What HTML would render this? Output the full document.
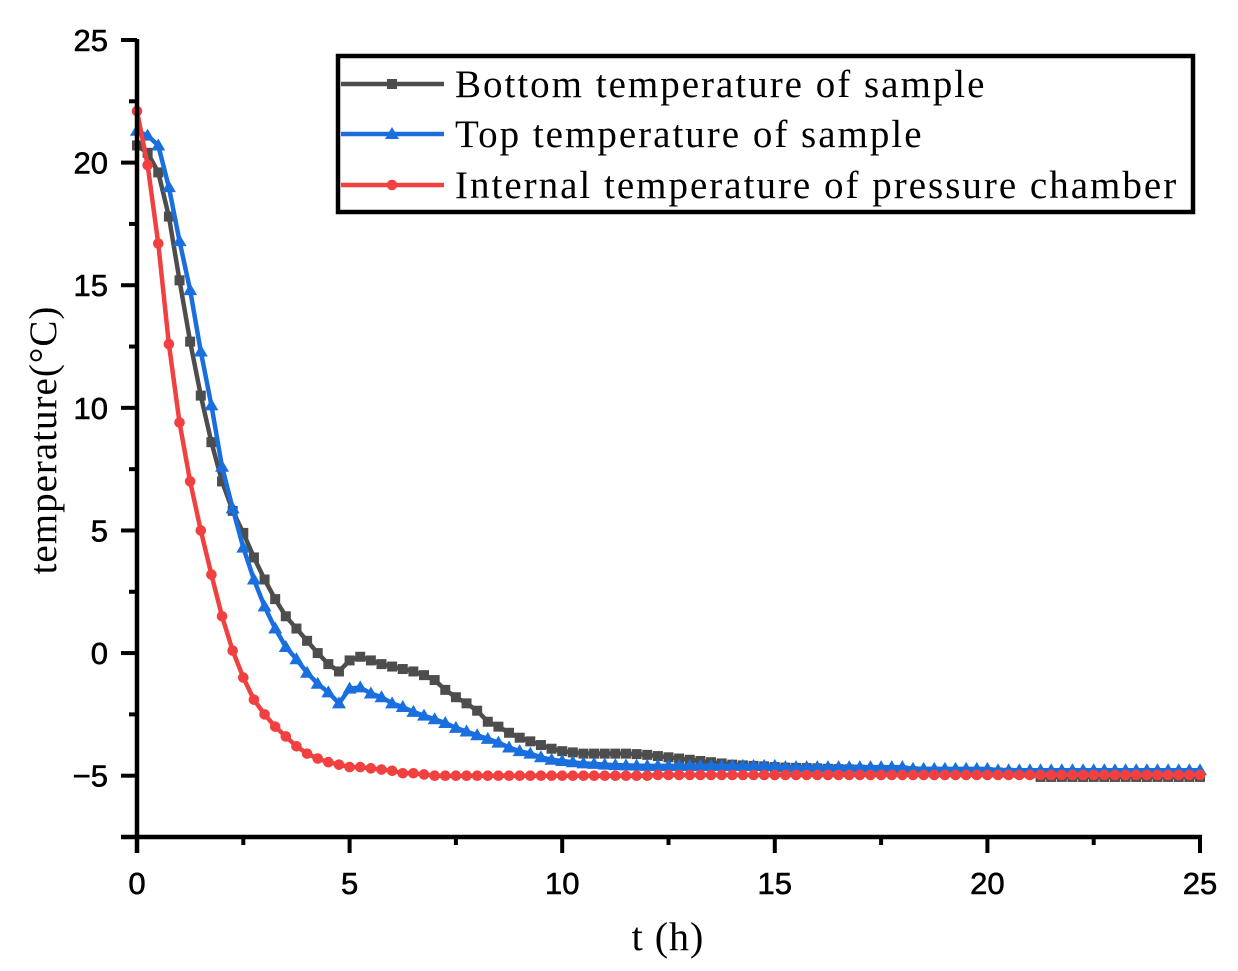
<!DOCTYPE html>
<html><head><meta charset="utf-8"><style>
html,body{margin:0;padding:0;background:#fff}
svg{display:block}
.tk{font-family:"Liberation Sans",sans-serif;font-size:31px;fill:#000;stroke:#000;stroke-width:0.6}
.lg{font-family:"Liberation Serif",serif;font-size:39px;letter-spacing:2px;fill:#000}
</style></head><body>
<svg id="chart" width="1238" height="971" viewBox="0 0 1238 971" xmlns="http://www.w3.org/2000/svg">
<g id="plot"></g>
<g id="axes"></g>
<text x="668" y="950" text-anchor="middle" font-family="Liberation Serif, serif" font-size="40" letter-spacing="1">t (h)</text>
<text transform="translate(56,440) rotate(-90)" text-anchor="middle" font-family="Liberation Serif, serif" font-size="39" letter-spacing="1">temperature(°C)</text>
<g id="legend"></g>
</svg>
<script>
const tStep = 0.25;
const bottomTemp = [20.7,20.4,19.6,17.8,15.2,12.7,10.5,8.6,7.0,5.8,4.9,3.9,3.0,2.2,1.5,1.0,0.5,0.0,-0.45,-0.75,-0.3,-0.15,-0.3,-0.45,-0.55,-0.65,-0.75,-0.9,-1.1,
-1.5,-1.8,-2.05,-2.35,-2.8,-3.0,-3.25,-3.45,-3.6,-3.75,-3.9,-4.0,-4.05,-4.1,-4.1,-4.1,-4.1,-4.1,-4.12,-4.15,
-4.2,-4.25,-4.3,-4.35,-4.4,-4.45,-4.5,-4.55,-4.58,-4.6,-4.62,-4.65,-4.67,-4.68,-4.69,-4.7,-4.72,-4.73,-4.74,-4.75,-4.77,-4.78,-4.79,-4.8,-4.82,-4.83,-4.84,-4.85,-4.85,-4.85,-4.85,-4.85,-4.87,-4.88,-4.89,-4.9,
-5.05,-5.05,-5.05,-5.05,-5.05,-5.05,-5.05,-5.05,-5.05,-5.05,-5.05,-5.05,-5.05,-5.05,-5.05,-5.05];
const topTemp = [21.3,21.1,20.7,19.0,16.8,14.8,12.3,10.1,7.6,5.9,4.3,3.0,1.9,1.0,0.25,-0.25,-0.8,-1.25,-1.6,-2.05,-1.45,-1.4,-1.65,-1.8,-2.05,-2.2,-2.4,-2.55,-2.7,
-2.85,-3.05,-3.2,-3.35,-3.5,-3.65,-3.85,-4.0,-4.1,-4.25,-4.35,-4.4,-4.45,-4.5,-4.52,-4.55,-4.57,-4.58,-4.59,-4.6,
-4.6,-4.6,-4.6,-4.6,-4.6,-4.6,-4.6,-4.6,-4.6,-4.6,-4.6,-4.6,
-4.65,-4.65,-4.65,-4.65,-4.65,-4.65,-4.65,-4.65,-4.65,-4.65,-4.65,-4.65,
-4.72,-4.72,-4.72,-4.72,-4.72,-4.72,-4.72,-4.72,
-4.78,-4.78,-4.78,-4.78,-4.78,-4.78,-4.78,-4.78,-4.78,-4.78,-4.78,-4.78,-4.78,-4.78,-4.78,-4.78,-4.78,-4.78,-4.78,-4.78];
const chamberTemp = [22.1,19.9,16.7,12.6,9.4,7.0,5.0,3.2,1.5,0.1,-1.0,-1.9,-2.5,-3.0,-3.4,-3.8,-4.1,-4.3,-4.45,-4.55,-4.65,-4.65,-4.7,-4.75,-4.8,-4.9,-4.9,-4.95,-5.0,
-5.0,-5.0,-5.0,-5.0,-5.0,-5.0,-5.0,-5.0,-5.0,-5.0,-5.0,-5.0,-5.0,-5.0,-5.0,-5.0,-5.0,-5.0,-5.0,-5.0,
-4.97,-4.97,-4.97,-4.97,-4.97,-4.97,-4.97,-4.97,-4.97,-4.97,-4.97,-4.97,-4.97,-4.97,-4.97,-4.97,-4.97,-4.97,-4.97,-4.97,-4.97,-4.97,-4.97,-4.97,-4.97,-4.97,
-4.97,-4.97,-4.97,-4.97,-4.97,-4.97,-4.97,-4.97,-4.97,-4.97,-4.97,-4.97,-4.97,-4.97,-4.97,-4.97,-4.97,-4.97,-4.97,-4.97,-4.97,-4.97,-4.97,-4.97,-4.97,-4.97];
const xTicks = [0,5,10,15,20,25];
const yTicks = [-5,0,5,10,15,20,25];
const seriesNames = ["Bottom temperature of sample","Top temperature of sample","Internal temperature of pressure chamber"];
const seriesColors = ["#4d4d4d","#1a6fdf","#f14040"];

const NS="http://www.w3.org/2000/svg";
const X0=137,X1=1200,Y0=837,Y1=40,xMin=0,xMax=25,yMin=-7.5,yMax=25;
const sx=v=>X0+(v-xMin)/(xMax-xMin)*(X1-X0);
const sy=v=>Y0-(v-yMin)/(yMax-yMin)*(Y0-Y1);
function mk(tag,attrs,parent){const e=document.createElementNS(NS,tag);for(const k in attrs)e.setAttribute(k,attrs[k]);parent.appendChild(e);return e;}
const plot=document.getElementById('plot'),axes=document.getElementById('axes'),legend=document.getElementById('legend');

function marker(type,x,y,color,parent,name){
  let m;
  if(type===0)m=mk('rect',{x:x-5,y:y-5,width:10,height:10,fill:color},parent);
  else if(type===1)m=mk('polygon',{points:`${x},${y-7} ${x-7},${y+5} ${x+7},${y+5}`,fill:color},parent);
  else m=mk('circle',{cx:x,cy:y,r:5.3,fill:color},parent);
  
  
}
const allSeries=[bottomTemp,topTemp,chamberTemp];
const seriesKeys=['bottom-temp','top-temp','chamber-temp'];
allSeries.forEach((arr,si)=>{
  const g=mk('g',{},plot);
  
  
  const pts=arr.map((v,i)=>sx(i*tStep)+','+sy(v)).join(' ');
  const pl=mk('polyline',{points:pts,fill:'none',stroke:seriesColors[si],'stroke-width':4.5,'stroke-linejoin':'round'},g);
  
  
  arr.forEach((v,i)=>marker(si,sx(i*tStep),sy(v),seriesColors[si],g,seriesKeys[si]+'-point'));
});

const xa=mk('line',{x1:X0-16,y1:Y0,x2:X1+2,y2:Y0,stroke:'#000','stroke-width':4.5},axes);


const ya=mk('line',{x1:X0,y1:Y0+16,x2:X0,y2:Y1-1,stroke:'#000','stroke-width':4.5},axes);


xTicks.forEach(v=>{
  mk('line',{x1:sx(v),y1:Y0,x2:sx(v),y2:Y0+16,stroke:'#000','stroke-width':4},axes);
  const t=mk('text',{x:sx(v),y:894,'text-anchor':'middle',class:'tk'},axes);t.textContent=v;
  
  
});
for(let i=0;i<xTicks.length-1;i++){const m=(xTicks[i]+xTicks[i+1])/2;mk('line',{x1:sx(m),y1:Y0,x2:sx(m),y2:Y0+8,stroke:'#000','stroke-width':4},axes);}
yTicks.forEach(v=>{
  mk('line',{x1:X0-16,y1:sy(v),x2:X0,y2:sy(v),stroke:'#000','stroke-width':4},axes);
  const t=mk('text',{x:108,y:sy(v)+11,'text-anchor':'end',class:'tk'},axes);t.textContent=(v<0?'\u2212'+(-v):v);
  
  
});
for(let v=-7.5;v<25;v+=5){mk('line',{x1:X0-8,y1:sy(v),x2:X0,y2:sy(v),stroke:'#000','stroke-width':4},axes);}

const box=mk('rect',{x:338,y:56,width:855,height:156,fill:'#fff',stroke:'#000','stroke-width':4.5},legend);


const ly=[84,134,185];
seriesNames.forEach((n,i)=>{
  const g=mk('g',{},legend);
  
  
  mk('line',{x1:341,y1:ly[i],x2:444,y2:ly[i],stroke:seriesColors[i],'stroke-width':4.5},g);
  marker(i,392,ly[i],seriesColors[i],g,'legend-marker');
  const t=mk('text',{x:455,y:ly[i]+13,class:'lg'},g);t.textContent=n;
  
  
});
</script>
</body></html>
